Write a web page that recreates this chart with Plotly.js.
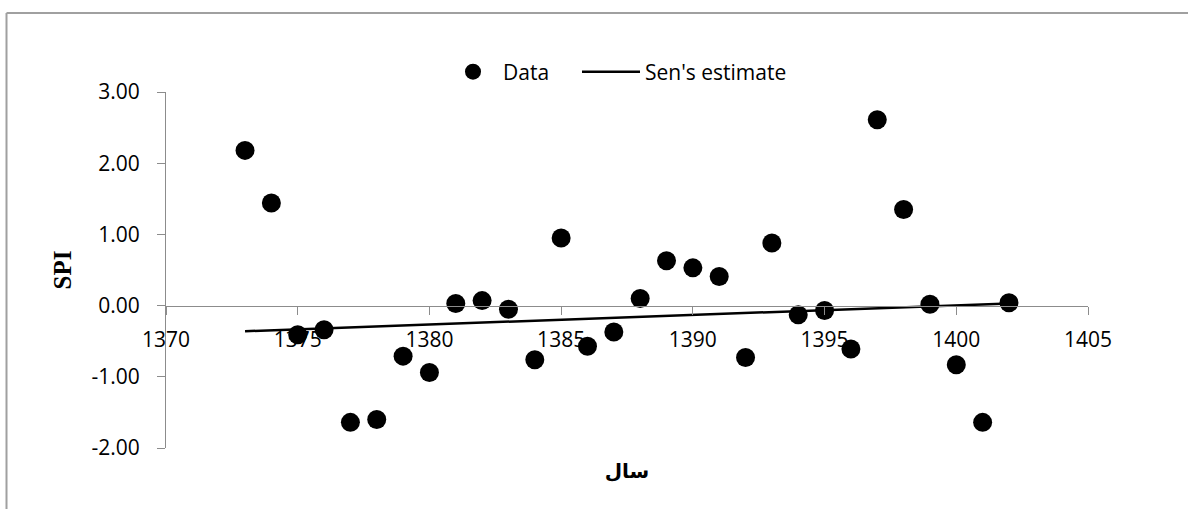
<!DOCTYPE html>
<html>
<head>
<meta charset="utf-8">
<script src="https://cdn.plot.ly/plotly-3.0.1.min.js"></script>
<style>
  html, body { margin: 0; padding: 0; background: #fff; overflow: hidden; }
  #chart { width: 1188px; height: 509px; }
</style>
</head>
<body>
<div id="chart"></div>
<script>
// Data
const years = [1373, 1374, 1375, 1376, 1377, 1378, 1379, 1380, 1381, 1382,
               1383, 1384, 1385, 1386, 1387, 1388, 1389, 1390, 1391, 1392,
               1393, 1394, 1395, 1396, 1397, 1398, 1399, 1400, 1401, 1402];
const spi = [2.18, 1.44, -0.41, -0.34, -1.64, -1.60, -0.71, -0.94, 0.03, 0.07,
             -0.05, -0.76, 0.95, -0.57, -0.37, 0.10, 0.63, 0.53, 0.41, -0.73,
             0.88, -0.13, -0.07, -0.61, 2.61, 1.35, 0.02, -0.83, -1.64, 0.04];
const senYears = [1373, 1402];
const senValues = [-0.36, 0.03];
const xTickVals = [1370, 1375, 1380, 1385, 1390, 1395, 1400, 1405];
const xTickText = ["1370", "1375", "1380", "1385", "1390", "1395", "1400", "1405"];
const yTickVals = [-2, -1, 0, 1, 2, 3];
const yTickText = ["-2.00", "-1.00", "0.00", "1.00", "2.00", "3.00"];
const legendNames = ["Data", "Sen's estimate"];
const xTitle = "سال";
const yTitle = "SPI";

const axisGray = "#8c8c8c";
const tickFont = { family: "Open Sans, Noto Sans, sans-serif", size: 21, color: "#000" };

const traces = [
  {
    x: years, y: spi, type: "scatter", mode: "markers", name: legendNames[0],
    marker: { color: "#000", size: 19 },
    cliponaxis: false, legend: "legend"
  },
  {
    x: senYears, y: senValues, type: "scatter", mode: "lines", name: legendNames[1],
    line: { color: "#000", width: 2.5 }, legend: "legend2"
  }
];

// plot area: x 166..1088, y 92..448 (pixels)
const mL = 166, mR = 100, mT = 92, mB = 61;
const plotH = 509 - mT - mB;
const plotW = 1188 - mL - mR;
const zeroPos = (0 - (-2)) / 5; // paper fraction of y=0

const borderX = (6.5 - mL) / plotW;
const borderTop = 1 + (mT - 13) / plotH;
const legendY = 1 + (mT - 72) / plotH;

const layout = {
  width: 1188, height: 509,
  margin: { l: mL, r: mR, t: mT, b: mB, pad: 0 },
  paper_bgcolor: "#fff", plot_bgcolor: "#fff",
  showlegend: true,
  legend: {
    orientation: "h", x: (443 - mL) / plotW, xanchor: "left",
    y: legendY, yanchor: "middle",
    font: tickFont, bgcolor: "rgba(0,0,0,0)",
    itemwidth: 50
  },
  legend2: {
    orientation: "h", x: (577 - mL) / plotW, xanchor: "left",
    y: legendY, yanchor: "middle",
    font: tickFont, bgcolor: "rgba(0,0,0,0)",
    itemwidth: 58
  },
  xaxis: {
    range: [1370, 1405], tickvals: xTickVals, ticktext: xTickText,
    showgrid: false, zeroline: false,
    showline: true, linecolor: axisGray, linewidth: 1,
    ticks: "outside", ticklen: 8, tickcolor: axisGray, tickwidth: 1,
    anchor: "free", position: zeroPos,
    tickfont: tickFont, ticklabelstandoff: 7,
    title: { text: xTitle, font: { family: "DejaVu Sans, sans-serif", size: 20, color: "#000", weight: "bold" }, standoff: 112 },
    automargin: false
  },
  yaxis: {
    range: [-2, 3], tickvals: yTickVals, ticktext: yTickText,
    showgrid: false, zeroline: false,
    showline: true, linecolor: axisGray, linewidth: 1,
    ticks: "outside", ticklen: 8, tickcolor: axisGray, tickwidth: 1,
    tickfont: tickFont, ticklabelstandoff: 13,
    title: { text: yTitle, font: { family: "Liberation Serif, Times New Roman, serif", size: 25, color: "#000", weight: "bold" }, standoff: 12 },
    automargin: false
  },
  shapes: [
    {
      type: "line", xref: "paper", yref: "paper",
      x0: borderX, x1: borderX, y0: -0.5, y1: borderTop,
      line: { color: "#a0a0a0", width: 2 }, layer: "below"
    },
    {
      type: "line", xref: "paper", yref: "paper",
      x0: borderX, x1: 1.5, y0: borderTop, y1: borderTop,
      line: { color: "#a0a0a0", width: 2 }, layer: "below"
    }
  ]
};

Plotly.newPlot("chart", traces, layout, { displayModeBar: false, staticPlot: true });
</script>
</body>
</html>
